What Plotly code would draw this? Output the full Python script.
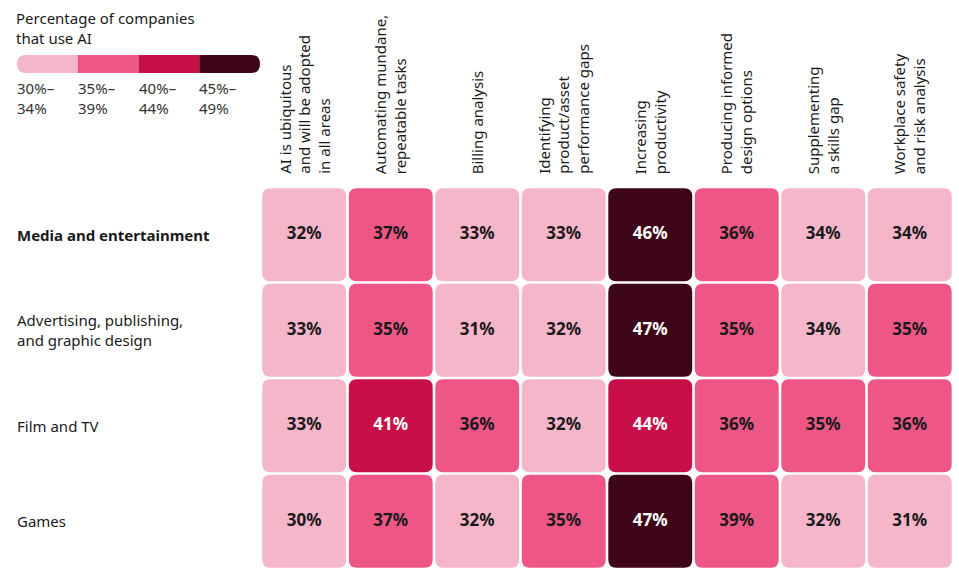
import plotly.graph_objects as go

columns = [
    "AI is ubiquitous<br>and will be adopted<br>in all areas",
    "Automating mundane,<br>repeatable tasks",
    "Billing analysis",
    "Identifying<br>product/asset<br>performance gaps",
    "Increasing<br>productivity",
    "Producing informed<br>design options",
    "Supplementing<br>a skills gap",
    "Workplace safety<br>and risk analysis",
]
rows = [
    "<b>Media and entertainment</b>",
    "Advertising, publishing,<br>and graphic design",
    "Film and TV",
    "Games",
]
media_ent = [32, 37, 33, 33, 46, 36, 34, 34]
advertising = [33, 35, 31, 32, 47, 35, 34, 35]
film_tv = [33, 41, 36, 32, 44, 36, 35, 36]
games = [30, 37, 32, 35, 47, 39, 32, 31]
values = [media_ent, advertising, film_tv, games]

bin_labels = ["30%–<br>34%", "35%–<br>39%", "40%–<br>44%", "45%–<br>49%"]
bin_edges = [30, 35, 40, 45, 50]
bin_colors = ["#F5B6CA", "#EE5686", "#C80F47", "#3D0517"]
text_colors = ["#1a1a1a", "#1a1a1a", "#ffffff", "#ffffff"]

FONT = "Noto Sans"

def bin_of(v):
    for i in range(4):
        if bin_edges[i] <= v < bin_edges[i + 1]:
            return i
    return 3

W, H = 959, 578
ml, mr, mt, mb = 261, 6, 187, 9
pw, ph = W - ml - mr, H - mt - mb
ncol, nrow = len(columns), len(rows)
px_x = pw / ncol
px_y = ph / nrow
gap = 2.6
hgx = gap / 2 / px_x
hgy = gap / 2 / px_y
rad = 8
rx = rad / px_x
ry = rad / px_y

def rrect(x0, x1, y0, y1, rx, ry):
    return (f"M {x0+rx},{y0} L {x1-rx},{y0} Q {x1},{y0} {x1},{y0+ry} "
            f"L {x1},{y1-ry} Q {x1},{y1} {x1-rx},{y1} L {x0+rx},{y1} "
            f"Q {x0},{y1} {x0},{y1-ry} L {x0},{y0+ry} Q {x0},{y0} {x0+rx},{y0} Z")

shapes = []
xs, ys, ts, tcs = [], [], [], []
for r, rowvals in enumerate(values):
    for c, v in enumerate(rowvals):
        b = bin_of(v)
        shapes.append(dict(type="path", xref="x", yref="y",
                           path=rrect(c - 0.5 + hgx, c + 0.5 - hgx, r - 0.5 + hgy, r + 0.5 - hgy, rx, ry),
                           fillcolor=bin_colors[b], line=dict(width=0), layer="below"))
        xs.append(c); ys.append(r); ts.append(f"{v}%"); tcs.append(text_colors[b])

fig = go.Figure()
fig.add_trace(go.Scatter(x=xs, y=ys, text=ts, mode="text",
                         textfont=dict(family=FONT, size=17, color=tcs, weight="bold"),
                         hoverinfo="skip", showlegend=False))

def ppx(x):
    return (x - ml) / pw

def ppy(y):
    return (H - mb - y) / ph

annotations = []
for r, lab in enumerate(rows):
    annotations.append(dict(text=lab, xref="paper", yref="y", x=ppx(15), y=r,
                            xanchor="left", yanchor="middle", align="left", showarrow=False,
                            font=dict(family=FONT, size=15, color="#1a1a1a")))
for c, lab in enumerate(columns):
    annotations.append(dict(text=lab, xref="x", yref="paper", x=c, y=ppy(176),
                            xanchor="center", yanchor="bottom", align="left", textangle=-90,
                            showarrow=False, font=dict(family=FONT, size=15, color="#1a1a1a")))

# legend
annotations.append(dict(text="Percentage of companies<br>that use AI", xref="paper", yref="paper",
                        x=ppx(14), y=ppy(6), xanchor="left", yanchor="top", align="left",
                        showarrow=False, font=dict(family=FONT, size=15, color="#1a1a1a")))
lx0, lx1, ly0, ly1 = 17, 260, 55, 73
seg = (lx1 - lx0) / 4
lrx = 9 / pw
lry = 9 / ph
for i in range(4):
    sx0 = ppx(lx0 + i * seg)
    sx1 = ppx(lx0 + (i + 1) * seg)
    sy0, sy1 = ppy(ly1), ppy(ly0)
    if i == 0:
        path = (f"M {sx1},{sy0} L {sx0+lrx},{sy0} Q {sx0},{sy0} {sx0},{(sy0+sy1)/2} "
                f"Q {sx0},{sy1} {sx0+lrx},{sy1} L {sx1},{sy1} Z")
    elif i == 3:
        path = (f"M {sx0},{sy0} L {sx1-lrx},{sy0} Q {sx1},{sy0} {sx1},{(sy0+sy1)/2} "
                f"Q {sx1},{sy1} {sx1-lrx},{sy1} L {sx0},{sy1} Z")
    else:
        path = f"M {sx0},{sy0} L {sx1},{sy0} L {sx1},{sy1} L {sx0},{sy1} Z"
    shapes.append(dict(type="path", xref="paper", yref="paper", path=path,
                       fillcolor=bin_colors[i], line=dict(width=0)))
    annotations.append(dict(text=bin_labels[i], xref="paper", yref="paper",
                            x=ppx(lx0 - 2 + i * seg), y=ppy(76), xanchor="left", yanchor="top",
                            align="left", showarrow=False,
                            font=dict(family=FONT, size=15, color="#333333")))

fig.update_layout(
    width=W, height=H, margin=dict(l=ml, r=mr, t=mt, b=mb, pad=0),
    paper_bgcolor="white", plot_bgcolor="white",
    xaxis=dict(range=[-0.5, ncol - 0.5], visible=False, fixedrange=True),
    yaxis=dict(range=[nrow - 0.5, -0.5], visible=False, fixedrange=True),
    shapes=shapes, annotations=annotations, showlegend=False,
)
fig.write_html("out.html", config={"displayModeBar": False},
               post_script="document.body.style.margin='0';document.body.style.overflow='hidden';")
